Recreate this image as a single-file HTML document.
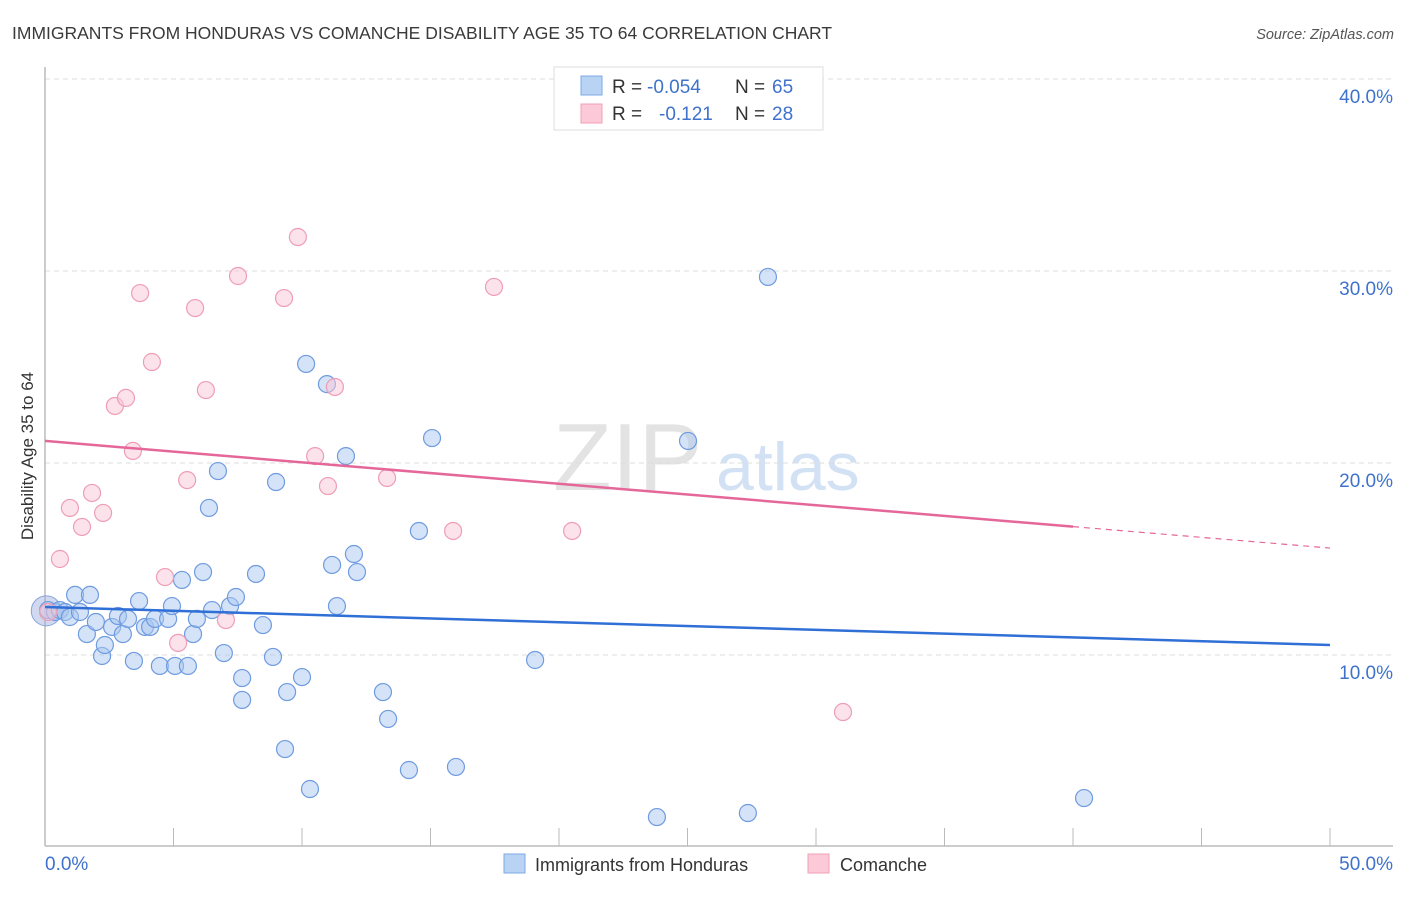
<!DOCTYPE html>
<html><head><meta charset="utf-8"><style>
body{margin:0;background:#fff;font-family:"Liberation Sans",sans-serif;}
svg text{font-family:"Liberation Sans",sans-serif;}
</style></head><body>
<svg id="chart" width="1406" height="892" xmlns="http://www.w3.org/2000/svg">
<text x="12" y="39" font-size="17.5" fill="#3a3a3a">IMMIGRANTS FROM HONDURAS VS COMANCHE DISABILITY AGE 35 TO 64 CORRELATION CHART</text>
<text x="1394" y="39" font-size="14.5" fill="#555" font-style="italic" text-anchor="end">Source: ZipAtlas.com</text>
<text x="553" y="490" font-size="96" font-family="Liberation Serif" fill="#ddd" opacity="0.8">ZIP</text>
<text x="716" y="490" font-size="68" fill="#c8daf2" opacity="0.8">atlas</text>
<g id="grid"></g>
<g id="axes"></g>
<g id="pts"></g>
<g id="trends"></g>
<text transform="translate(33,456) rotate(-90)" font-size="17" fill="#333" text-anchor="middle">Disability Age 35 to 64</text>
<g>
<rect x="554" y="67" width="269" height="63" fill="#fff" stroke="#ddd"/>
<rect x="581" y="76" width="21" height="19" fill="#b9d3f4" stroke="#7ea9e6"/>
<rect x="581" y="104" width="21" height="19" fill="#fbc9d7" stroke="#f0a0b6"/>
<text x="612" y="93" font-size="19" fill="#333">R = </text><text x="647" y="93" font-size="19" fill="#3f72cc">-0.054</text>
<text x="735" y="93" font-size="19" fill="#333">N = </text><text x="772" y="93" font-size="19" fill="#3f72cc">65</text>
<text x="612" y="120" font-size="19" fill="#333">R = </text><text x="659" y="120" font-size="19" fill="#3f72cc">-0.121</text>
<text x="735" y="120" font-size="19" fill="#333">N = </text><text x="772" y="120" font-size="19" fill="#3f72cc">28</text>
</g>
<g>
<rect x="504" y="854" width="21" height="19" fill="#b9d3f4" stroke="#7ea9e6"/>
<text x="535" y="871" font-size="18" fill="#333">Immigrants from Honduras</text>
<rect x="808" y="854" width="21" height="19" fill="#fbc9d7" stroke="#f0a0b6"/>
<text x="840" y="871" font-size="18" fill="#333">Comanche</text>
</g>
</svg>
<script>
const yTicks=[10,20,30,40];
const xTickLabels=["0.0%","50.0%"];
const blueX=[0.12,0.39,0.58,0.78,0.97,1.17,1.36,1.63,1.75,1.98,2.22,2.33,2.61,2.84,3.03,3.23,3.46,3.66,3.89,4.09,4.28,4.47,4.79,4.94,5.06,5.33,5.56,5.76,5.91,6.15,6.38,6.50,6.73,6.96,7.20,7.43,7.67,7.67,8.21,8.48,8.87,8.99,9.34,9.42,10.00,10.16,10.31,10.97,11.17,11.36,11.71,12.02,12.14,13.15,13.35,14.16,14.55,15.06,15.99,19.07,23.81,25.02,27.35,28.13,40.43];
const blueY=[12.34,12.24,12.34,12.24,11.98,13.13,12.24,11.09,13.13,11.72,9.95,10.52,11.46,12.03,11.09,11.88,9.69,12.81,11.46,11.46,11.88,9.43,11.88,12.55,9.43,13.91,9.43,11.09,11.88,14.32,17.66,12.34,19.58,10.10,12.55,13.02,8.80,7.66,14.22,11.56,9.90,19.01,5.10,8.07,8.85,25.16,3.02,24.11,14.69,12.55,20.36,15.26,14.32,8.07,6.67,4.01,16.46,21.30,4.17,9.74,1.56,21.15,1.77,29.69,2.55];
const pinkX=[0.12,0.58,0.97,1.44,1.83,2.26,2.72,3.15,3.42,3.70,4.16,4.67,5.18,5.53,5.84,6.26,7.04,7.51,9.30,9.84,10.51,11.01,11.28,13.31,15.88,17.47,20.51,31.05];
const pinkY=[12.24,15.00,17.66,16.67,18.44,17.40,22.97,23.39,20.63,28.85,25.26,14.06,10.63,19.11,28.07,23.80,11.82,29.74,28.59,31.77,20.36,18.80,23.96,19.22,16.46,29.17,16.46,7.03];
const blueTrend=[12.5,10.52];
const pinkTrend=[21.15,15.57];
const pinkSolidEnd=40;
const NS="http://www.w3.org/2000/svg";
const X=v=>45+v/50*1285, Y=v=>847-v*19.2;
function mk(t,a,p){const e=document.createElementNS(NS,t);for(const k in a)e.setAttribute(k,a[k]);document.getElementById(p).appendChild(e);return e;}
yTicks.forEach(t=>{
 const l=mk('line',{x1:45,x2:1393,y1:Y(t),y2:Y(t),stroke:'#ddd','stroke-dasharray':'5,4'},'grid');
 
 
 const tx=mk('text',{x:1393,y:Y(t)+24,'font-size':19,fill:'#3f72cc','text-anchor':'end'},'grid');
 tx.textContent=t.toFixed(1)+'%';
 
 
});
const ya=mk('line',{x1:45,x2:45,y1:67,y2:846,stroke:'#bbb','stroke-width':1.5},'axes');


const xa=mk('line',{x1:45,x2:1393,y1:846,y2:846,stroke:'#bbb','stroke-width':1.5},'axes');


for(let i=0;i<=10;i++){const tk=mk('line',{x1:X(i*5),x2:X(i*5),y1:828,y2:846,stroke:'#bbb'},'axes');
 
 }
xTickLabels.forEach((s,i)=>{const t=mk('text',{x:i?1393:45,y:870,'font-size':19,fill:'#3f72cc','text-anchor':i?'end':'start'},'axes');t.textContent=s;
 
 });
const big=mk('circle',{cx:X(0.05),cy:Y(12.3),r:15,fill:'rgba(150,170,220,0.45)',stroke:'#8aa3dc'},'pts');


blueX.forEach((x,i)=>{const c=mk('circle',{cx:X(x),cy:Y(blueY[i]),r:8.5,fill:'rgba(170,200,240,0.5)',stroke:'#6f9be0','stroke-width':1.2},'pts');
 
 });
pinkX.forEach((x,i)=>{const c=mk('circle',{cx:X(x),cy:Y(pinkY[i]),r:8.5,fill:'rgba(250,200,215,0.5)',stroke:'#ef9db5','stroke-width':1.2},'pts');
 
 });
const bl=mk('line',{x1:X(0),y1:Y(blueTrend[0]),x2:X(50),y2:Y(blueTrend[1]),stroke:'#2f6fd6','stroke-width':2.5},'trends');


const pm=pinkTrend[0]+(pinkTrend[1]-pinkTrend[0])*pinkSolidEnd/50;
const pl=mk('line',{x1:X(0),y1:Y(pinkTrend[0]),x2:X(pinkSolidEnd),y2:Y(pm),stroke:'#e5679a','stroke-width':2.5},'trends');


const pd=mk('line',{x1:X(pinkSolidEnd),y1:Y(pm),x2:X(50),y2:Y(pinkTrend[1]),stroke:'#e5679a','stroke-width':1.2,'stroke-dasharray':'6,5'},'trends');


</script>
</body></html>
